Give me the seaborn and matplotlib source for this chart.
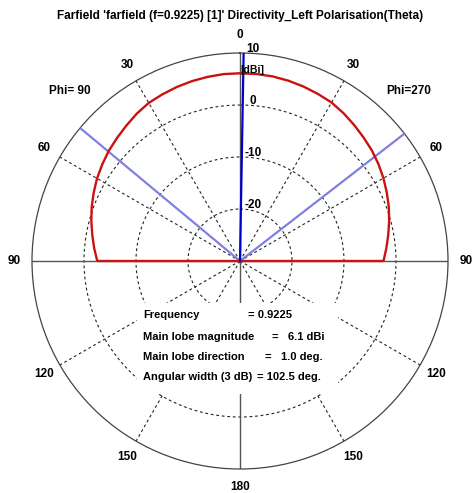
import numpy as np
import pandas as pd
import matplotlib
matplotlib.use("Agg")
import matplotlib.pyplot as plt
from matplotlib.patches import Rectangle
import seaborn as sns

# ---------------- data ----------------
theta_deg = [-180, -91,
             -90, -85, -80, -75, -70, -65, -60, -55, -50, -45, -40, -35, -30, -25, -20, -15, -10, -5,
             0,
             5, 10, 15, 20, 25, 30, 35, 40, 45, 50, 55, 60, 65, 70, 75, 80, 85, 90,
             91, 180]
directivity_dbi = [-30, -30,
                   -2.55, -1.85, -1.15, -0.4, 0.35, 1.05, 1.75, 2.35, 2.95, 3.45, 4.0, 4.6, 5.1, 5.35, 5.6, 5.8, 5.95, 6.08,
                   6.1,
                   6.1, 6.05, 5.9, 5.7, 5.45, 5.2, 4.7, 4.15, 3.6, 3.1, 2.5, 1.85, 1.15, 0.45, -0.3, -1.05, -1.75, -2.4,
                   -30, -30]
main_lobe_dir = 1.0
beam_width = 102.5
ring_levels = [10, 0, -10, -20]
ring_labels = ["10", "0", "-10", "-20"]
angle_ticks = [0, 30, 60, 90, 120, 150, 180]
title = "Farfield 'farfield (f=0.9225) [1]' Directivity_Left Polarisation(Theta)"
info_labels = ["Frequency", "Main lobe magnitude", "Main lobe direction", "Angular width (3 dB)"]
info_values = ["= 0.9225", "=   6.1 dBi", "=   1.0 deg.", "= 102.5 deg."]

# ---------------- figure ----------------
sns.set_style("white")
plt.rcParams['font.family'] = ['Liberation Sans', 'DejaVu Sans']
plt.rcParams['text.color'] = 'black'

W, H = 476, 493
fig = plt.figure(figsize=(W / 100, H / 100), dpi=100)
cx, cy, R = 240, 261, 208
ax = fig.add_axes([(cx - R) / W, (H - cy - R) / H, 2 * R / W, 2 * R / H], projection='polar')
ax.set_theta_zero_location('N')
ax.set_theta_direction(-1)
rmin, rmax = -30, 10
ax.set_ylim(rmin, rmax)
ax.grid(False)
ax.set_xticks([])
ax.set_yticks([])
ax.spines['polar'].set_color('#444444')
ax.spines['polar'].set_linewidth(0.9)
ax.set_facecolor('white')

def px(x, y):
    return x / W, 1 - y / H

tfull = np.linspace(0, 2 * np.pi, 721)
# dashed rings
for lv in ring_levels[1:]:
    ax.plot(tfull, np.full_like(tfull, lv), color='#222222', lw=0.8,
            ls=(0, (2.5, 2.5)), zorder=1)
# radial lines
for a in range(0, 360, 30):
    th = np.deg2rad(a)
    if a % 90 == 0:
        ax.plot([th, th], [rmin, rmax], color='#555555', lw=1.0, zorder=1)
    else:
        ax.plot([th, th], [rmin, rmax], color='#222222', lw=0.8,
                ls=(0, (2.5, 2.5)), zorder=1)

# pattern curve
df = pd.DataFrame({"theta": np.deg2rad(theta_deg), "dbi": directivity_dbi})
sns.lineplot(data=df, x="theta", y="dbi", ax=ax, sort=False, estimator=None,
             color='#cc1111', lw=1.7, zorder=4)
ax.set_xlabel("")
ax.set_ylabel("")

# main lobe & beam width
th_main = np.deg2rad(main_lobe_dir)
ax.plot([th_main, th_main], [rmin, rmax], color='#0000cc', lw=1.6, zorder=5)
for edge in (main_lobe_dir - beam_width / 2, main_lobe_dir + beam_width / 2):
    te = np.deg2rad(edge)
    ax.plot([te, te], [rmin, rmax], color='#8080e0', lw=1.6, zorder=3)

ax.set_ylim(rmin, rmax)
ax.set_xticks([])
ax.set_yticks([])

# angle labels
rl = 13.5
fs = 8.5
for a in angle_ticks:
    for s in ([1] if a in (0, 180) else [-1, 1]):
        ax.text(np.deg2rad(s * a), rl, str(a), ha='center', va='center',
                fontsize=fs, fontweight='bold', color='black')

# ring labels
for lv, lab in zip(ring_levels, ring_labels):
    r_px = (lv - rmin) / (rmax - rmin) * R
    x, y = px(253, cy - r_px - 4)
    fig.text(x, y, lab, ha='center', va='center', fontsize=fs, fontweight='bold',
             color='black', zorder=6)
x, y = px(240, 70)
fig.text(x, y, "[dBi]", ha='left', va='center', fontsize=7.5, fontweight='bold',
         color='black', zorder=6)

# title and phi labels
x, y = px(240, 16)
fig.text(x, y, title, ha='center', va='center', fontsize=8.5, fontweight='bold', color='black')
x, y = px(70, 91)
fig.text(x, y, "Phi= 90", ha='center', va='center', fontsize=fs, fontweight='bold', color='black')
x, y = px(409, 91)
fig.text(x, y, "Phi=270", ha='center', va='center', fontsize=fs, fontweight='bold', color='black')

# info box
bx0, by0, bx1, by1 = 137, 303, 338, 394
fig.add_artist(Rectangle(((bx0) / W, 1 - by1 / H), (bx1 - bx0) / W, (by1 - by0) / H,
                         transform=fig.transFigure, facecolor='white', edgecolor='none',
                         zorder=5))
ys = [315, 337, 357, 377]
eq_x = [248, 272, 265, 257]
ifs = 8.0
for lab, val, yy, ex in zip(info_labels, info_values, ys, eq_x):
    x, y = px(143, yy)
    fig.text(x, y, lab, ha='left', va='center', fontsize=ifs, fontweight='bold',
             color='black', zorder=6)
    x, y = px(ex, yy)
    fig.text(x, y, val, ha='left', va='center', fontsize=ifs, fontweight='bold',
             color='black', zorder=6)

fig.savefig("out.png", dpi=100, facecolor='white')
